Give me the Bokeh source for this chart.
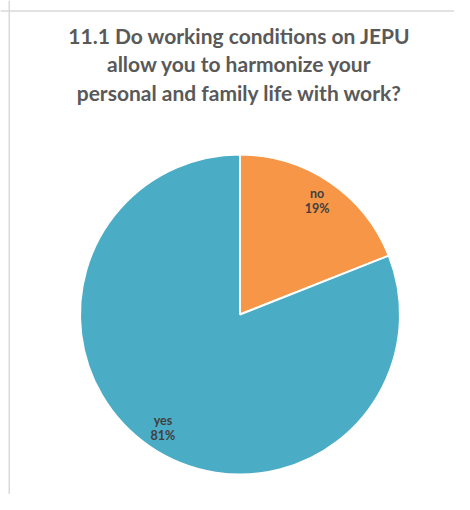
import math
from bokeh.plotting import figure
from bokeh.models import Range1d, ColumnDataSource, Span, Label
from bokeh.core.properties import value
from bokeh.embed import file_html
from bokeh.resources import INLINE

# ---- data ----
categories = ["no", "yes"]
percents = [19, 81]
colors = ["#F79646", "#4BACC6"]
title_lines = [
    "11.1 Do working conditions on JEPU",
    "allow you to harmonize your",
    "personal and family life with work?",
]

W, H = 454, 494
p = figure(width=W, height=H, output_backend="svg", toolbar_location=None,
           x_range=Range1d(0, W), y_range=Range1d(0, H),
           min_border=0, outline_line_color=None)
p.axis.visible = False
p.grid.visible = False
p.background_fill_color = "white"
p.border_fill_color = "white"

# chart-area border (left and top only visible)
p.add_layout(Span(location=8.75, dimension="height", line_color="#d9d9d9", line_width=1.5))
p.add_layout(Span(location=H - 10.5, dimension="width", line_color="#d9d9d9", line_width=1.5))

cx, cy, R = 239.5, H - 314, 160
total = sum(percents)
starts, ends, lx, ly, labels = [], [], [], [], []
acc = 0.0
for cat, v in zip(categories, percents):
    a0 = math.pi / 2 - 2 * math.pi * acc / total
    acc += v
    a1 = math.pi / 2 - 2 * math.pi * acc / total
    starts.append(a0)
    ends.append(a1)
    mid = (a0 + a1) / 2
    lx.append(cx + 137 * math.cos(mid))
    ly.append(cy + 137 * math.sin(mid))
    labels.append(f"{cat}\n{v}%")

src = ColumnDataSource(dict(x=[cx] * len(categories), y=[cy] * len(categories),
                            start=starts, end=ends, color=colors,
                            lx=lx, ly=ly, label=labels))
p.wedge(x="x", y="y", radius=R, radius_units="screen", start_angle="start",
        end_angle="end", direction="clock", fill_color="color",
        line_color="white", line_width=2, source=src)
p.text(x="lx", y="ly", text="label", source=src, text_align="center",
       text_baseline="middle", text_font=value("Lato"), text_font_style="bold",
       text_font_size="12.5px", text_color="#404040", text_line_height=1.0)

baselines = [35, 63, 92]
for line, b in zip(title_lines, baselines):
    p.add_layout(Label(x=239, y=H - b, text=line, text_align="center",
                       text_baseline="alphabetic", text_font="Lato",
                       text_font_style="bold", text_font_size="21px",
                       text_color="#595959"))

open("out.html", "w").write(file_html(p, INLINE))
